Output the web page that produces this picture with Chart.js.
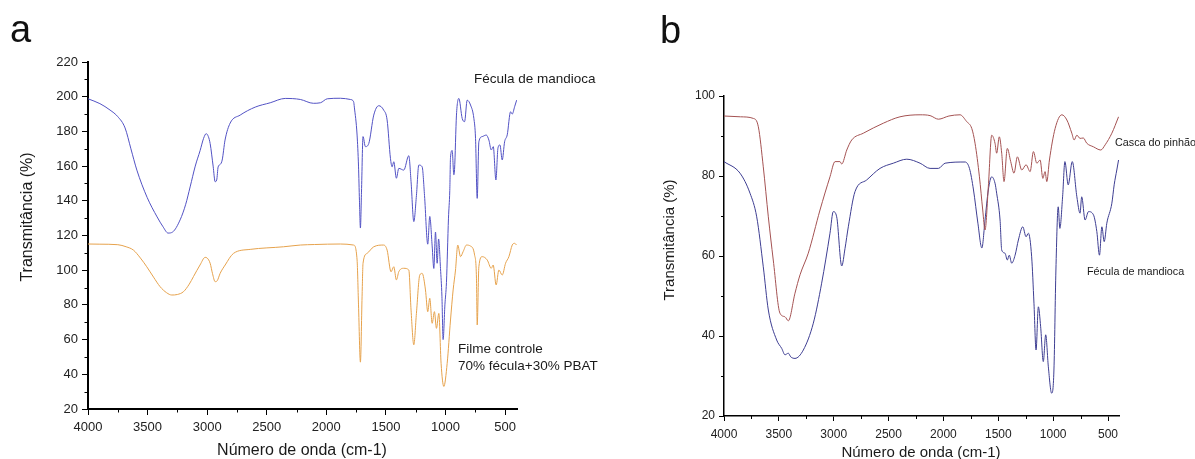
<!DOCTYPE html>
<html><head><meta charset="utf-8">
<script src="https://cdn.jsdelivr.net/npm/chart.js@4.4.1/dist/chart.umd.min.js"></script>
<style>
html,body{margin:0;padding:0;background:#fff;width:1195px;height:459px;overflow:hidden;}
.box{position:absolute;top:0;}
</style></head><body>
<div class="box" style="left:0;width:600px;height:459px"><canvas id="ca" width="600" height="459"></canvas></div>
<div class="box" style="left:600px;width:595px;height:459px"><canvas id="cb" width="595" height="459"></canvas></div>
<script>
// ---------- DATA ----------
// Panel a — Fécula de mandioca (blue)
const aBlueWn = [4000,3900,3815,3750,3689,3640,3590,3504,3420,3370,3328,3290,3227,3180,3143,3100,3059,3030,3008,2990,2975,2950,2933,2920,2908,2890,2874,2850,2807,2723,2597,2471,2345,2218,2109,2050,1992,1882,1798,1771,1765,1742,1730,1722,1714,1705,1692,1672,1644,1602,1560,1519,1490,1462,1448,1434,1412,1392,1350,1308,1289,1266,1244,1224,1196,1176,1149,1132,1112,1098,1084,1070,1058,1042,1030,1020,1005,992,975,964,958,944,930,924,908,888,860,840,818,790,762,748,734,720,692,658,636,616,599,577,560,543,524,504,482,454,440,420,403];
const aBlueT  = [198.8,196,192.3,188.5,182,170,157.7,142,130.7,125,121.4,122,129,138,148,160,169,176,178.7,177,173,160,151,152,159.5,161,163.5,175,184.8,189.4,194,196.5,199,198.4,196.2,196.5,198.8,199.1,198.4,197.1,194,177.9,160,140,124.3,145,177,171.2,173,189.4,194.8,192.3,186.6,164.5,159.6,162.5,153,158.7,157.7,166,151,128,143,160.6,159.6,143,115,131,114,101,122,104,118,101,85,60,80,93,130,146,165,169,155,158,189.4,199,187.5,185.6,198,195.2,187.5,176,141.4,174,177,177.9,175,169.3,171.2,152,170.3,172.2,163.5,174,178,191.3,190,194.2,198];
// Panel a — Filme controle 70% fécula+30% PBAT (orange)
const aOrangeWn = [4000,3900,3750,3680,3619,3560,3507,3450,3395,3340,3297,3250,3199,3150,3115,3060,3017,3000,2975,2955,2933,2915,2891,2849,2779,2639,2359,2218,2100,1882,1771,1742,1730,1714,1700,1692,1658,1602,1519,1490,1457,1434,1412,1392,1350,1308,1289,1266,1244,1216,1196,1168,1149,1132,1112,1093,1076,1056,1037,1014,986,958,936,916,897,874,852,824,790,756,740,734,720,692,650,616,600,575,552,524,496,468,440,420,403];
const aOrangeT  = [115.1,115,114.7,113.5,111.6,107,102,96,90.5,87,85.7,86,87.6,92,96.3,103,107.4,107,104,98,93.4,94,98.2,103,109.7,112,113.5,114.5,114.8,115.1,114.5,105.9,80,47,85,104,109.7,113.5,114.5,111.6,99.1,102,94.4,99.1,101.1,100.1,77,57,75.1,97.2,98.2,88.6,76.1,83.8,69.4,76.1,66.5,75.1,46.3,33,46.3,71.3,88.6,100.1,114.5,107.8,110.7,114.5,113.9,108.8,95,68.4,102,107.8,105.9,101.1,103,91.5,100.1,97.2,104,107.8,114.5,115.5,114.5];
// Panel b — Casca do pinhão (red)
const bRedWn = [4000,3850,3733,3687,3642,3596,3551,3490,3444,3414,3353,3307,3232,3125,3034,2988,2943,2927,2881,2836,2730,2548,2396,2213,2122,2046,1950,1849,1788,1742,1712,1672,1642,1621,1591,1560,1530,1515,1491,1469,1448,1418,1387,1357,1326,1286,1247,1210,1180,1149,1119,1094,1074,1058,1034,982,921,875,830,809,784,755,725,694,633,566,526,465,404];
const bRedT  = [95,94.8,94.4,92.3,82.3,69.8,59,45.7,44.8,43.8,50.7,55.3,60.7,71.5,79.8,83.6,83.6,83,86.5,89,90.7,93.2,94.8,95.3,95.1,94.2,95,95.3,93.6,91.9,88.2,79.8,71.5,66.5,77.3,90.2,88.2,85.7,89.8,85.7,78.6,86.9,83.6,80.7,84.8,81.5,82.8,81.1,86.1,83.2,84,79.4,81.1,78.6,84,91.9,95.3,94,90.7,89,90.2,89.4,89.5,88.2,87.3,86.5,87.8,90.7,94.8];
// Panel b — Fécula de mandioca (blue)
const bBlueWn = [4000,3854,3763,3702,3642,3596,3520,3474,3444,3414,3392,3353,3277,3186,3110,3034,3004,2973,2927,2897,2867,2806,2700,2578,2457,2334,2213,2122,2046,1985,1803,1763,1726,1686,1650,1621,1591,1560,1530,1515,1484,1469,1439,1418,1400,1378,1347,1317,1277,1247,1226,1196,1175,1156,1135,1114,1090,1068,1044,1014,993,975,954,939,914,893,863,826,784,755,740,709,678,633,602,578,556,535,511,465,444,420,404];
const bBlueT  = [83.6,80.7,75.7,69.8,57.3,46.5,39,36.9,35.3,35.7,34.8,34.4,36.5,43.2,53.2,65.7,71.1,69.8,57.5,61.9,67.3,76.1,79,81.9,83.2,84.2,83.2,81.9,81.9,83.2,83.5,81.9,76.5,68.2,62,69,76.5,79.8,78.2,75.7,69,61.5,60.7,59,60.2,58.2,60.2,64,67.3,64.8,65.7,59.8,48.2,36.5,47.3,42.3,33.6,40.3,32.3,25.7,31.5,56.5,72.3,66.9,74.8,83.6,77.8,83.6,74.8,70.7,74.8,69,71.1,70.3,66.1,60.2,67.3,63.6,68.2,73.2,77.8,81.5,84];

// Tick values
const xMajorTicks = [4000,3500,3000,2500,2000,1500,1000,500];
const xMinorTicks = [3750,3250,2750,2250,1750,1250,750];
const aYMinor = [30,50,70,90,110,130,150,170,190,210];
const bYMinor = [30,50,70,90];

// ---------- HELPERS ----------
Chart.defaults.font.family = "'Liberation Sans', Arial, sans-serif";
Chart.defaults.color = '#222';

const pts = (wn, t) => wn.map((w, i) => ({x: w, y: t[i]}));

function decor(cfg) {
  return {
    id: 'decor',
    afterDraw(chart) {
      const ctx = chart.ctx, xs = chart.scales.x, ys = chart.scales.y;
      ctx.save();
      ctx.strokeStyle = '#000';
      ctx.lineWidth = 1;
      ctx.beginPath();
      xMinorTicks.forEach(v => {
        const p = Math.round(xs.getPixelForValue(v)) + 0.5;
        ctx.moveTo(p, ys.bottom);
        ctx.lineTo(p, ys.bottom + cfg.minorLen);
      });
      cfg.minorY.forEach(v => {
        const p = Math.round(ys.getPixelForValue(v)) + 0.5;
        ctx.moveTo(xs.left, p);
        ctx.lineTo(xs.left - cfg.minorLen, p);
      });
      ctx.stroke();
      cfg.texts.forEach(t => {
        ctx.font = t.font;
        ctx.fillStyle = t.color || '#1a1a1a';
        ctx.textAlign = t.align || 'left';
        ctx.textBaseline = t.base || 'alphabetic';
        if (t.rot) {
          ctx.save();
          ctx.translate(t.x, t.y);
          ctx.rotate(-Math.PI / 2);
          ctx.fillText(t.text, 0, 0);
          ctx.restore();
        } else {
          ctx.fillText(t.text, t.x, t.y);
        }
      });
      ctx.restore();
    }
  };
}

function makeChart(id, o) {
  return new Chart(document.getElementById(id), {
    type: 'line',
    data: {
      datasets: o.series.map(s => ({
        data: pts(s.wn, s.t), borderColor: s.color, borderWidth: 1,
        pointRadius: 0, fill: false, cubicInterpolationMode: 'monotone'
      }))
    },
    options: {
      responsive: false, animation: false,
      layout: {padding: o.pad},
      plugins: {legend: {display: false}, tooltip: {enabled: false}},
      scales: {
        x: {
          type: 'linear', reverse: true, min: 400, max: 4000,
          afterBuildTicks: s => { s.ticks = xMajorTicks.map(v => ({value: v})); },
          afterFit: s => { s.height = o.xH; },
          ticks: {font: {size: o.tickSize}, color: '#222', padding: o.xTickPad, maxRotation: 0, autoSkip: false, callback: v => String(v)},
          grid: {display: true, drawOnChartArea: false, drawTicks: true, tickLength: o.majorLen, tickColor: '#000', tickWidth: 1},
          border: {display: true, color: '#000', width: o.axisW}
        },
        y: {
          type: 'linear', min: o.yMin, max: o.yMax,
          ticks: {stepSize: 20, font: {size: o.tickSize}, color: '#222', padding: o.yTickPad, callback: v => String(v)},
          afterFit: s => { s.width = o.yW; },
          grid: {display: true, drawOnChartArea: false, drawTicks: true, tickLength: o.majorLen, tickColor: '#000', tickWidth: 1},
          border: {display: true, color: '#000', width: o.axisW}
        }
      }
    },
    plugins: [decor({minorLen: o.minorLen, minorY: o.minorY, texts: o.texts})]
  });
}

makeChart('ca', {
  series: [
    {wn: aBlueWn, t: aBlueT, color: '#5252c4'},
    {wn: aOrangeWn, t: aOrangeT, color: '#e6a24c'}
  ],
  pad: {left: 0, top: 62, right: 83, bottom: 0},
  xH: 50, yW: 88, yMin: 20, yMax: 220,
  tickSize: 13, xTickPad: 5, yTickPad: 4, majorLen: 6, minorLen: 3.5, axisW: 2,
  minorY: aYMinor,
  texts: [
    {text: 'a', x: 10, y: 42, font: "38px 'Liberation Sans', Arial, sans-serif", color: '#111'},
    {text: 'Transmitância (%)', x: 28, y: 217, rot: true, align: 'center', base: 'middle', font: "16px 'Liberation Sans', Arial, sans-serif"},
    {text: 'Número de onda (cm-1)', x: 302, y: 451, align: 'center', base: 'middle', font: "16px 'Liberation Sans', Arial, sans-serif"},
    {text: 'Fécula de mandioca', x: 474, y: 83, font: "13.5px 'Liberation Sans', Arial, sans-serif"},
    {text: 'Filme controle', x: 458, y: 353, font: "13.5px 'Liberation Sans', Arial, sans-serif"},
    {text: '70% fécula+30% PBAT', x: 458, y: 370, font: "13.5px 'Liberation Sans', Arial, sans-serif"}
  ]
});

makeChart('cb', {
  series: [
    {wn: bRedWn, t: bRedT, color: '#a45252'},
    {wn: bBlueWn, t: bBlueT, color: '#3e3e92'}
  ],
  pad: {left: 0, top: 96, right: 76, bottom: 0},
  xH: 43, yW: 124, yMin: 20, yMax: 100,
  tickSize: 12, xTickPad: 6, yTickPad: 4, majorLen: 5, minorLen: 3, axisW: 1.5,
  minorY: bYMinor,
  texts: [
    {text: 'b', x: 60, y: 43, font: "38px 'Liberation Sans', Arial, sans-serif", color: '#111'},
    {text: 'Transmitância (%)', x: 70, y: 240, rot: true, align: 'center', base: 'middle', font: "15px 'Liberation Sans', Arial, sans-serif"},
    {text: 'Número de onda (cm-1)', x: 321, y: 453, align: 'center', base: 'middle', font: "15px 'Liberation Sans', Arial, sans-serif"},
    {text: 'Casca do pinhão', x: 515, y: 146, font: "10.8px 'Liberation Sans', Arial, sans-serif"},
    {text: 'Fécula de mandioca', x: 487, y: 275, font: "10.8px 'Liberation Sans', Arial, sans-serif"}
  ]
});
</script>
</body></html>
